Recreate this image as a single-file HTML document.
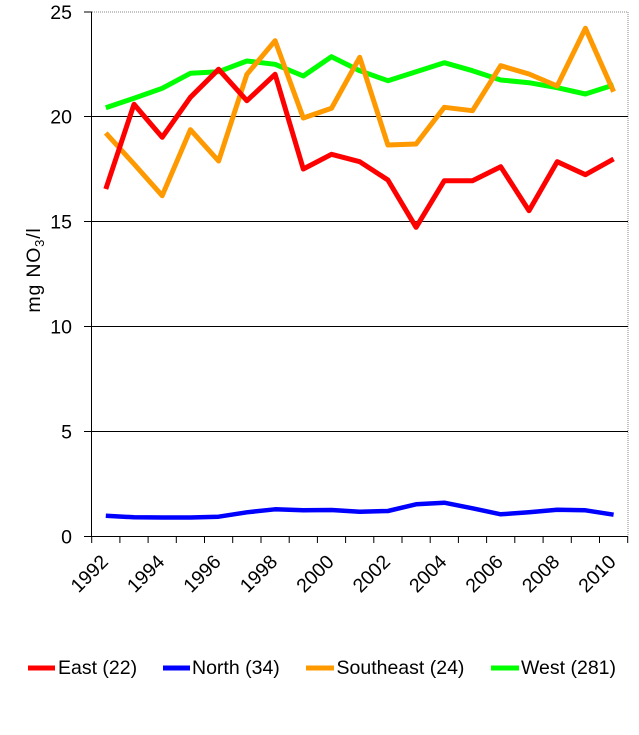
<!DOCTYPE html>
<html><head><meta charset="utf-8"><style>
html,body{margin:0;padding:0;background:#fff;}
svg{display:block;}
text{font-family:"Liberation Sans",Arial,sans-serif;fill:#000;}
</style></head><body>
<svg width="639" height="735" viewBox="0 0 639 735" xmlns="http://www.w3.org/2000/svg">
<rect width="639" height="735" fill="#fff"/>
<line x1="92" y1="12" x2="628" y2="12" stroke="#888" stroke-width="1" stroke-dasharray="1,1"/>
<line x1="628" y1="12" x2="628" y2="536" stroke="#888" stroke-width="1" stroke-dasharray="1,1"/>
<g stroke="#000" stroke-width="1">
<line x1="92" y1="116.5" x2="628" y2="116.5"/>
<line x1="92" y1="221.5" x2="628" y2="221.5"/>
<line x1="92" y1="326.5" x2="628" y2="326.5"/>
<line x1="92" y1="431.5" x2="628" y2="431.5"/>
<line x1="91.5" y1="12" x2="91.5" y2="536"/>
<line x1="91.5" y1="536.5" x2="628" y2="536.5"/>
<line x1="84" y1="12" x2="92" y2="12"/>
<line x1="84" y1="116.5" x2="92" y2="116.5"/>
<line x1="84" y1="221.5" x2="92" y2="221.5"/>
<line x1="84" y1="326.5" x2="92" y2="326.5"/>
<line x1="84" y1="431.5" x2="92" y2="431.5"/>
<line x1="84" y1="536.5" x2="92" y2="536.5"/>
<line x1="91.7" y1="536" x2="91.7" y2="543"/>
<line x1="119.9" y1="536" x2="119.9" y2="543"/>
<line x1="148.1" y1="536" x2="148.1" y2="543"/>
<line x1="176.3" y1="536" x2="176.3" y2="543"/>
<line x1="204.5" y1="536" x2="204.5" y2="543"/>
<line x1="232.7" y1="536" x2="232.7" y2="543"/>
<line x1="261.0" y1="536" x2="261.0" y2="543"/>
<line x1="289.2" y1="536" x2="289.2" y2="543"/>
<line x1="317.4" y1="536" x2="317.4" y2="543"/>
<line x1="345.6" y1="536" x2="345.6" y2="543"/>
<line x1="373.8" y1="536" x2="373.8" y2="543"/>
<line x1="402.0" y1="536" x2="402.0" y2="543"/>
<line x1="430.2" y1="536" x2="430.2" y2="543"/>
<line x1="458.4" y1="536" x2="458.4" y2="543"/>
<line x1="486.6" y1="536" x2="486.6" y2="543"/>
<line x1="514.8" y1="536" x2="514.8" y2="543"/>
<line x1="543.1" y1="536" x2="543.1" y2="543"/>
<line x1="571.3" y1="536" x2="571.3" y2="543"/>
<line x1="599.5" y1="536" x2="599.5" y2="543"/>
<line x1="627.7" y1="536" x2="627.7" y2="543"/>
</g>
<g font-size="19.5" text-anchor="end">
<text x="72" y="19">25</text>
<text x="72" y="123.5">20</text>
<text x="72" y="228.5">15</text>
<text x="72" y="333.5">10</text>
<text x="72" y="438.5">5</text>
<text x="72" y="543.5">0</text>
</g>
<text transform="translate(40,270) rotate(-90)" font-size="19.5" text-anchor="middle" letter-spacing="0.8">mg NO<tspan font-size="13" dy="4">3</tspan><tspan dy="-4">/l</tspan></text>
<g font-size="19.5" text-anchor="end">
<text transform="translate(109.3,563) rotate(-45)">1992</text>
<text transform="translate(165.7,563) rotate(-45)">1994</text>
<text transform="translate(222.1,563) rotate(-45)">1996</text>
<text transform="translate(278.6,563) rotate(-45)">1998</text>
<text transform="translate(335.0,563) rotate(-45)">2000</text>
<text transform="translate(391.4,563) rotate(-45)">2002</text>
<text transform="translate(447.8,563) rotate(-45)">2004</text>
<text transform="translate(504.2,563) rotate(-45)">2006</text>
<text transform="translate(560.7,563) rotate(-45)">2008</text>
<text transform="translate(617.1,563) rotate(-45)">2010</text>
</g>
<g fill="none" stroke-width="5" stroke-linejoin="round" stroke-linecap="butt">
<polyline stroke="#00ff00" points="105.8,107.7 134.0,98.3 162.2,88.3 190.4,73.3 218.6,71.7 246.9,61 275.1,64.3 303.3,76 331.5,56.7 359.7,70.7 387.9,80.7 416.1,71.7 444.3,62.7 472.5,70.7 500.7,80 529.0,82.7 557.2,87.7 585.4,94 613.6,85"/>
<polyline stroke="#ff9900" points="105.8,133 134.0,164 162.2,195.7 190.4,129.7 218.6,161 246.9,74.3 275.1,40.7 303.3,118 331.5,108.3 359.7,57.3 387.9,145 416.1,144 444.3,107.3 472.5,110.7 500.7,65.7 529.0,74 557.2,86 585.4,28.3 613.6,91.7"/>
<polyline stroke="#ff0000" points="105.8,189 134.0,104.3 162.2,137.3 190.4,97.3 218.6,69.3 246.9,100.7 275.1,74.3 303.3,169 331.5,154.3 359.7,161.7 387.9,180 416.1,227.3 444.3,180.7 472.5,180.7 500.7,166.7 529.0,210.7 557.2,161.7 585.4,174.7 613.6,159"/>
<polyline stroke="#0000ff" stroke-width="4.5" points="105.8,515.7 134.0,517.3 162.2,517.5 190.4,517.5 218.6,516.7 246.9,512.3 275.1,509.3 303.3,510.3 331.5,510 359.7,511.7 387.9,511 416.1,504.3 444.3,502.7 472.5,508.3 500.7,514.3 529.0,512.3 557.2,509.7 585.4,510.3 613.6,514.7"/>
</g>
<g stroke-width="5">
<line x1="28" y1="668" x2="55" y2="668" stroke="#ff0000"/>
<line x1="163" y1="668" x2="190" y2="668" stroke="#0000ff"/>
<line x1="306" y1="668" x2="334" y2="668" stroke="#ff9900"/>
<line x1="491" y1="668" x2="519" y2="668" stroke="#00ff00"/>
</g>
<g font-size="19.5">
<text x="58" y="674">East (22)</text>
<text x="192" y="674">North (34)</text>
<text x="336.5" y="674">Southeast (24)</text>
<text x="521" y="674">West (281)</text>
</g>
</svg>
</body></html>
